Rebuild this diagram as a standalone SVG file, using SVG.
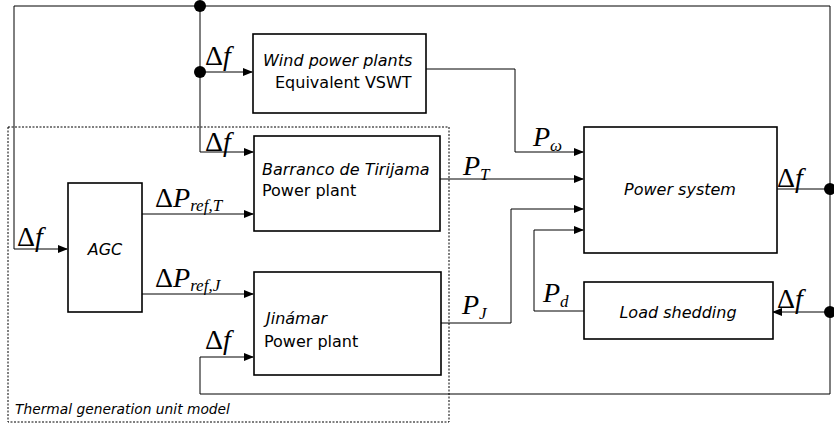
<svg xmlns="http://www.w3.org/2000/svg" width="834" height="425" viewBox="0 0 834 425">
<style>
.box{fill:#fff;stroke:#000;stroke-width:1.6}
.ln{fill:none;stroke:#000;stroke-width:1}
.t{font-family:"DejaVu Sans",sans-serif;font-size:16px;fill:#000}
.i{font-style:italic}
.m{font-family:"Liberation Serif","DejaVu Serif",serif;font-size:28px;fill:#000}
.mi{font-style:italic}
.sub{font-size:17px;font-style:italic}
</style>
<defs>
<marker id="ah" markerWidth="10" markerHeight="8" refX="9" refY="4" orient="auto" markerUnits="userSpaceOnUse">
<path d="M0,0 L10,4 L0,8 Z" fill="#000"/>
</marker>
</defs>
<rect width="834" height="425" fill="#fff"/>
<g id="thermal-group">
<rect x="8" y="127" width="441" height="295" fill="none" stroke="#000" stroke-width="1" stroke-dasharray="2,1.5"/>
<text class="t i" x="15" y="414" style="font-size:13.8px">Thermal generation unit model</text>
</g>
<g id="connectors">
<polyline class="ln" points="14,249 14,6 830,6 830,394 200,394 200,357 253,357" marker-end="url(#ah)"/>
<line class="ln" x1="14" y1="249" x2="67" y2="249" marker-end="url(#ah)"/>
<polyline class="ln" points="200,6 200,152 253,152" marker-end="url(#ah)"/>
<line class="ln" x1="200" y1="72" x2="252" y2="72" marker-end="url(#ah)"/>
<polyline class="ln" points="426,69 515,69 515,152 583,152" marker-end="url(#ah)"/>
<line class="ln" x1="440" y1="179" x2="583" y2="179" marker-end="url(#ah)"/>
<polyline class="ln" points="441,323 511,323 511,209 583,209" marker-end="url(#ah)"/>
<polyline class="ln" points="584,311 534,311 534,230 583,230" marker-end="url(#ah)"/>
<line class="ln" x1="777" y1="189" x2="830" y2="189"/>
<line class="ln" x1="830" y1="312" x2="773" y2="312" marker-end="url(#ah)"/>
<line class="ln" x1="142" y1="214" x2="253" y2="214" marker-end="url(#ah)"/>
<line class="ln" x1="142" y1="294" x2="253" y2="294" marker-end="url(#ah)"/>
<circle cx="200" cy="6" r="6" fill="#000"/>
<circle cx="200" cy="72" r="6" fill="#000"/>
<circle cx="830" cy="189" r="6" fill="#000"/>
<circle cx="830" cy="312" r="6" fill="#000"/>
</g>
<g id="wind">
<rect class="box" x="253" y="34" width="173" height="79"/>
<text class="t i" x="263" y="66">Wind power plants</text>
<text class="t" x="275" y="88">Equivalent VSWT</text>
</g>
<g id="barranco">
<rect class="box" x="254" y="136" width="186" height="95"/>
<text class="t i" x="262" y="175">Barranco de Tirijama</text>
<text class="t" x="262" y="196">Power plant</text>
</g>
<g id="agc">
<rect class="box" x="68" y="183" width="74" height="129"/>
<text class="t i" x="105" y="255" text-anchor="middle">AGC</text>
</g>
<g id="jinamar">
<rect class="box" x="254" y="272" width="187" height="103"/>
<text class="t i" x="266" y="324">Jinámar</text>
<text class="t" x="264" y="347">Power plant</text>
</g>
<g id="power-system">
<rect class="box" x="584" y="127" width="193" height="126"/>
<text class="t i" x="680" y="195" text-anchor="middle">Power system</text>
</g>
<g id="load-shedding">
<rect class="box" x="584" y="282" width="189" height="57"/>
<text class="t i" x="678" y="318" text-anchor="middle">Load shedding</text>
</g>
<g id="labels">
<text class="m" x="205" y="65">Δ<tspan class="mi">f</tspan></text>
<text class="m" x="205" y="151">Δ<tspan class="mi">f</tspan></text>
<text class="m" x="17" y="246">Δ<tspan class="mi">f</tspan></text>
<text class="m" x="205" y="349">Δ<tspan class="mi">f</tspan></text>
<text class="m" x="777" y="187">Δ<tspan class="mi">f</tspan></text>
<text class="m" x="777" y="308">Δ<tspan class="mi">f</tspan></text>
<text class="m" x="155" y="207">Δ<tspan class="mi">P</tspan><tspan class="sub" dy="4">ref,T</tspan></text>
<text class="m" x="155" y="287">Δ<tspan class="mi">P</tspan><tspan class="sub" dy="4">ref,J</tspan></text>
<text class="m" x="533" y="146"><tspan class="mi">P</tspan><tspan class="sub" dy="5">ω</tspan></text>
<text class="m" x="463" y="175"><tspan class="mi">P</tspan><tspan class="sub" dy="5">T</tspan></text>
<text class="m" x="462" y="314"><tspan class="mi">P</tspan><tspan class="sub" dy="5">J</tspan></text>
<text class="m" x="543" y="302"><tspan class="mi">P</tspan><tspan class="sub" dy="5">d</tspan></text>
</g>
</svg>
